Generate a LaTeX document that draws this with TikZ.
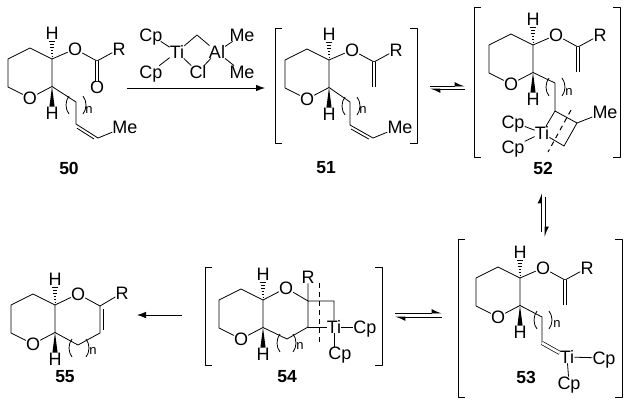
\documentclass[tikz,border=0pt]{standalone}
\usepackage{fontspec}
\setmainfont{Liberation Sans}
\usetikzlibrary{calc}
\usetikzlibrary{arrows.meta}

\tikzset{
    atom/.style={inner sep=0pt, text height=12.4pt, text depth=0pt, font=\fontsize{18}{18}\selectfont},
    subscript/.style={inner sep=0pt, font=\fontsize{13}{13}\selectfont},
    compound/.style={inner sep=0pt, font=\fontsize{17.5}{17.5}\selectfont\bfseries},
    bond/.style={line width=0.8pt, line join=round},
    dblbond/.style={line width=0.7pt, double, double distance=2.6pt},
    dashbond/.style={line width=1pt, dash pattern=on 5pt off 4pt},
    reaction/.style={line width=0.8pt, -{Latex[length=9pt, width=6.5pt]}},
    equilibrium/.style={line width=0.8pt, -{Latex[harpoon, length=9pt, width=8pt]}}
}

% ring with its two ring-fusion hydrogens
\newcommand{\oxanering}{
    \coordinate (c1) at (0,0);
    \coordinate (c2) at (0,27.5);
    \node [atom] (o1) at (-22,39) {O};
    \coordinate (c3) at (-44,28);
    \coordinate (c4) at (-44,0);
    \coordinate (c5) at (-22,-11);
    \node [atom] (ht) at (0,-26) {H};
    \node [atom] (hb) at (0,54) {H};
    \draw [bond] (c1) -- (c2) -- (o1) -- (c3) -- (c4) -- (c5) -- (c1);
    \fill (c2) -- ($(hb.north)+(-2.6,0)$) -- ($(hb.north)+(2.6,0)$) -- cycle;
    \foreach \k in {1,...,6} {
        \draw [line width=0.7pt] (-0.42*\k,-2.9*\k) -- (0.42*\k,-2.9*\k);
    }
}
% O-C(R) arm on the upper ring carbon
\newcommand{\esterarm}{
    \node [atom] (oe) at (23,-10) {O};
    \coordinate (cq) at (45,2);
    \node [atom] (r) at (67,-10) {R};
    \draw [bond] (c1) -- (oe) -- (cq) -- (r);
}
% xl, xr, ytop, xn, yn
\newcommand{\chainparens}[5]{
    \draw [bond] (#1,#3) .. controls (#1-4,#3+5) and (#1-4,#3+13) .. (#1,#3+18);
    \draw [bond] (#2,#3) .. controls (#2+4,#3+5) and (#2+4,#3+13) .. (#2,#3+18);
    \node [subscript] (nsub) at (#4,#5) {n};
}
% xl, xr, ytop, ybottom
\newcommand{\bracketpair}[4]{
    \draw [bond] (#1+7,#3) -- (#1,#3) -- (#1,#4) -- (#1+7,#4);
    \draw [bond] (#2-7,#3) -- (#2,#3) -- (#2,#4) -- (#2-7,#4);
}
% second, shorter line of a double bond: from, to
\newcommand{\innerbond}[2]{
    \draw [bond, shorten <=3pt, shorten >=3pt] ($(#1)!3pt!90:(#2)$) -- ($(#2)!3pt!-90:(#1)$);
}

\begin{document}
\begin{tikzpicture}[x=1pt, y=-1pt]
    \useasboundingbox (0,0) rectangle (629,405);

    % 50
    \begin{scope}[shift={(52,59)}, name prefix=m50-]
        \oxanering
        \esterarm
        \node [atom] (ox) at (45,28) {O};
        \draw [dblbond] (cq) -- (ox);
        \coordinate (p1) at (24,43);
        \coordinate (p2) at (24,65);
        \coordinate (p3) at (46,79);
        \node [atom] (me) at (73,68) {Me};
        \draw [bond] (c2) -- (p1) -- (p2) -- (p3) -- (me);
        \innerbond{p3}{p2}
        \chainparens{17}{31}{37}{37}{51}
        \node [compound] (label) at (17,109) {50};
    \end{scope}

    % reagent
    \node [atom] (ti) at (177,52) {Ti};
    \node [atom] (cpa) at (151,35) {Cp};
    \node [atom] (cpb) at (151,72) {Cp};
    \coordinate (ch2) at (197,35);
    \node [atom] (al) at (217,52) {Al};
    \node [atom] (cl) at (198,72) {Cl};
    \node [atom] (mea) at (242,35) {Me};
    \node [atom] (meb) at (242,72) {Me};
    \draw [bond] (cpa) -- (ti);
    \draw [bond] (cpb) -- (ti);
    \draw [bond] (ti) -- (ch2) -- (al);
    \draw [bond] (ti) -- (cl) -- (al);
    \draw [bond] (al) -- (mea);
    \draw [bond] (al) -- (meb);
    \coordinate (arrowa) at (127,88);
    \coordinate (arrowb) at (265,88);
    \draw [reaction] (arrowa) -- (arrowb);

    % 51
    \bracketpair{275}{417}{28}{143}
    \begin{scope}[shift={(329,60)}, name prefix=m51-]
        \oxanering
        \esterarm
        \coordinate (ox) at (45,27);
        \draw [dblbond] (cq) -- (ox);
        \coordinate (p1) at (21,42);
        \coordinate (p2) at (21,65);
        \coordinate (p3) at (44,78);
        \node [atom] (me) at (71,67) {Me};
        \draw [bond] (c2) -- (p1) -- (p2) -- (p3) -- (me);
        \innerbond{p3}{p2}
        \chainparens{16}{28}{37}{34}{50}
        \node [compound] (label) at (-3,108) {51};
    \end{scope}

    \coordinate (eqaa) at (430,86);
    \coordinate (eqab) at (465,86);
    \coordinate (eqac) at (465,89);
    \coordinate (eqad) at (430,89);
    \draw [equilibrium] (eqaa) -- (eqab);
    \draw [equilibrium] (eqac) -- (eqad);

    % 52
    \bracketpair{474}{620}{7}{157}
    \begin{scope}[shift={(533,45)}, name prefix=m52-]
        \oxanering
        \esterarm
        \coordinate (ox) at (45,27);
        \draw [dblbond] (cq) -- (ox);
        \coordinate (p1) at (22,38);
        \coordinate (p2) at (22,66);
        \coordinate (p3) at (44,78);
        \coordinate (p4) at (31,101);
        \node [atom] (ti) at (9,88) {Ti};
        \node [atom] (me) at (72,67) {Me};
        \node [atom] (cpa) at (-20,77) {Cp};
        \node [atom] (cpb) at (-20,102) {Cp};
        \draw [bond] (c2) -- (p1) -- (p2) -- (p3) -- (p4) -- (ti) -- (p2);
        \draw [bond] (p3) -- (me);
        \draw [bond] (cpa) -- (ti);
        \draw [bond] (cpb) -- (ti);
        \coordinate (dasha) at (38,65);
        \coordinate (dashb) at (15,107);
        \draw [dashbond] (dasha) -- (dashb);
        \chainparens{16}{29}{33}{36}{47}
        \node [compound] (label) at (10,123) {52};
    \end{scope}

    \coordinate (eqba) at (541.5,232);
    \coordinate (eqbb) at (541.5,193);
    \coordinate (eqbc) at (545,197);
    \coordinate (eqbd) at (545,237);
    \draw [equilibrium] (eqba) -- (eqbb);
    \draw [equilibrium] (eqbc) -- (eqbd);

    % 53
    \bracketpair{458}{622}{239}{397}
    \begin{scope}[shift={(520,278)}, name prefix=m53-]
        \oxanering
        \esterarm
        \coordinate (ox) at (45,27);
        \draw [dblbond] (cq) -- (ox);
        \coordinate (p1) at (22,39);
        \coordinate (p2) at (22,65);
        \node [atom] (ti) at (47,79) {Ti};
        \node [atom] (cpa) at (84,80) {Cp};
        \node [atom] (cpb) at (49,105) {Cp};
        \draw [bond] (c2) -- (p1) -- (p2);
        \draw [dblbond] (p2) -- (ti);
        \draw [bond] (ti) -- (cpa);
        \draw [bond] (ti) -- (cpb);
        \chainparens{17}{29}{33}{37}{46}
        \node [compound] (label) at (6,99) {53};
    \end{scope}

    \coordinate (eqca) at (395,313);
    \coordinate (eqcb) at (442,313);
    \coordinate (eqcc) at (442,317);
    \coordinate (eqcd) at (395,317);
    \draw [equilibrium] (eqca) -- (eqcb);
    \draw [equilibrium] (eqcc) -- (eqcd);

    % 54
    \bracketpair{205}{382}{267}{365}
    \begin{scope}[shift={(263,300)}, name prefix=m54-]
        \oxanering
        \node [atom] (oe) at (23,-12) {O};
        \coordinate (cq) at (45,1);
        \node [atom] (r) at (45,-23) {R};
        \coordinate (cs) at (45,27);
        \coordinate (p1) at (24,39);
        \coordinate (ch2) at (71,1);
        \node [atom] (ti) at (71,27) {Ti};
        \node [atom] (cpa) at (102,27) {Cp};
        \node [atom] (cpb) at (77,53) {Cp};
        \draw [bond] (c1) -- (oe) -- (cq) -- (r);
        \draw [bond] (c2) -- (p1) -- (cs) -- (cq) -- (ch2) -- (ti);
        \draw [bond] (cs) -- (ti);
        \draw [bond] (ti) -- (cpa);
        \draw [bond] (ti) -- (ti |- cpb.north);
        \coordinate (dasha) at (56,-17);
        \coordinate (dashb) at (56,45);
        \draw [dashbond] (dasha) -- (dashb);
        \chainparens{17}{30}{34}{37}{46}
        \node [compound] (label) at (24,77) {54};
    \end{scope}

    \coordinate (arrowc) at (182,315);
    \coordinate (arrowd) at (137,315);
    \draw [reaction] (arrowc) -- (arrowd);

    % 55
    \begin{scope}[shift={(55,305)}, name prefix=m55-]
        \oxanering
        \node [atom] (oe) at (23,-11) {O};
        \coordinate (cq) at (45,1);
        \node [atom] (r) at (67,-12) {R};
        \coordinate (cs) at (45,28);
        \coordinate (p1) at (23,40);
        \draw [bond] (c1) -- (oe) -- (cq) -- (r);
        \draw [bond] (c2) -- (p1) -- (cs) -- (cq);
        \innerbond{cq}{cs}
        \chainparens{17}{31}{34}{38}{46}
        \node [compound] (label) at (10,72) {55};
    \end{scope}
\end{tikzpicture}
\end{document}
